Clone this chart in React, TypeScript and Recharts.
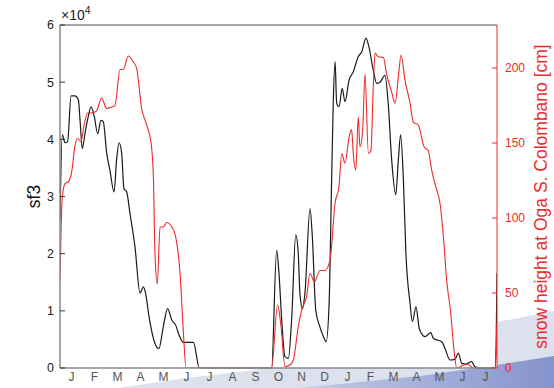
import { LineChart, Line, XAxis, YAxis, CartesianGrid } from 'recharts'

// month letters, Jan (year 1) .. Jul (year 2)
const monthLetters = ['J', 'F', 'M', 'A', 'M', 'J', 'J', 'A', 'S', 'O', 'N', 'D', 'J', 'F', 'M', 'A', 'M', 'J', 'J']
const monthCenters = monthLetters.map((_, i) => i + 0.5)
const monthEdges = monthLetters.slice(1).map((_, i) => i + 1)

const sf3Ticks = [0, 1, 2, 3, 4, 5, 6]
const snowTicks = [0, 50, 100, 150, 200]
const snowInnerTicks = [50, 100, 150, 200]

// sf3 (x 10^4), x in months since 1 Jan
const sf3Months = [
  0, 0.1, 0.22, 0.33, 0.48, 0.65, 0.8, 0.87, 0.97, 1.09, 1.23, 1.35, 1.49, 1.64, 1.78, 1.88, 2.03, 2.17, 2.35, 2.46,
  2.57, 2.68, 2.78, 2.9, 3.04, 3.26, 3.48, 3.62, 3.72, 3.87, 4.13, 4.3, 4.49, 4.68, 4.86, 5.03, 5.17, 5.36, 5.8, 6.06,
  9.2, 9.42, 9.52, 9.64, 9.78, 9.93, 10.07, 10.25, 10.36, 10.43, 10.54, 10.65, 10.87, 10.97, 11.12, 11.3, 11.45, 11.57,
  11.7, 11.81, 11.88, 11.96, 12.03, 12.13, 12.27, 12.39, 12.57, 12.75, 12.97, 13.12, 13.3, 13.43, 13.62, 13.77, 13.91,
  14.13, 14.27, 14.42, 14.6, 14.71, 14.81, 14.93, 15.04, 15.22, 15.32, 15.48, 15.62, 15.87, 16.12, 16.23, 16.4, 16.6,
  16.74, 16.96, 17.17, 17.32, 17.47, 17.65, 17.9, 18.04, 18.26, 18.93, 19,
]
const sf3Values = [
  2.6, 4.08, 3.94, 3.96, 4.76, 4.76, 4.69, 4.34, 3.84, 4.11, 4.4, 4.57, 4.4, 4.1, 4.33, 4.31, 3.76, 3.46, 3.08, 3.64,
  3.94, 3.76, 3.14, 3.08, 2.71, 2.12, 1.31, 1.42, 1.31, 0.9, 0.43, 0.34, 0.72, 1.04, 0.84, 0.75, 0.58, 0.45, 0.45, 0,
  0, 2.06, 1.66, 0.84, 0.2, 0.17, 0.84, 2.33, 2.0, 1.31, 1.04, 1.31, 2.79, 2.3, 1.01, 0.72, 0.55, 0.46,
  1.13, 3.29, 4.63, 5.36, 4.63, 4.57, 4.89, 4.66, 5.04, 5.18, 5.45, 5.53, 5.77, 5.62, 5.21, 4.98, 5.0,
  5.12, 4.63, 3.64, 3.03, 3.64, 4.08, 3.29, 2.0, 1.13, 0.81, 1.07, 0.69, 0.55, 0.62, 0.52, 0.49, 0.46,
  0.34, 0.14, 0.15, 0.26, 0.08, 0.07, 0.11, 0.02, 0, 0, 1.66,
]

// snow height at Oga S. Colombano [cm]
const snowMonths = [
  0, 0.1, 0.22, 0.36, 0.51, 0.65, 0.77, 0.91, 1.06, 1.2, 1.38, 1.59, 1.81, 2.03, 2.25, 2.39, 2.61, 2.75, 2.97, 3.19,
  3.33, 3.55, 3.77, 3.96, 4.06, 4.13, 4.23, 4.35, 4.49, 4.64, 4.86, 5.03, 5.22, 5.36, 5.48,
  9.2, 9.46, 9.61, 9.78, 10.0, 10.14, 10.36, 10.51, 10.72, 10.87, 11.06, 11.3, 11.52, 11.74, 11.96, 12.13, 12.25,
  12.39, 12.57, 12.68, 12.75, 12.86, 12.97, 13.04, 13.16, 13.26, 13.41, 13.52, 13.62, 13.7, 13.84, 14.06, 14.2, 14.42,
  14.57, 14.71, 14.83, 15.0, 15.22, 15.36, 15.58, 15.83, 16.01, 16.16, 16.38, 16.52, 16.67, 16.81, 16.99, 17.13, 17.25,
  17.55, 17.75, 17.95, 18.9, 18.97, 19,
]
const snowValues = [
  58, 114, 123, 124, 131, 148, 153, 151, 163, 170, 170, 171.5, 180, 173, 174, 175, 199, 199, 208, 204,
  200, 173, 162, 150, 127.5, 76, 56, 94, 94, 97, 94, 87.5, 63, 25, 0,
  0, 42, 27.5, 1, 2, 5, 27.5, 38.7, 47.5, 63, 57.5, 65, 65, 72, 110, 121, 143,
  136.5, 154, 159, 143, 132, 167.5, 147.5, 159, 196, 143, 145, 187.5, 210, 207.5, 207, 196, 184,
  176.5, 194, 208.7, 192, 176.5, 164, 162, 147.5, 145, 132, 118.7, 110, 87.5, 58.7, 36.5, 12, 0,
  2, 2.5, 0, 0, 10, 30,
]

const sf3Data = sf3Months.map((m, i) => ({ m, v: sf3Values[i] }))
const snowData = snowMonths.map((m, i) => ({ m, v: snowValues[i] }))

const FRAME = '#8a8a8a'
const RED = '#ee2a2a'
const FONT = '"Liberation Sans", Arial, Helvetica, sans-serif'

function sideTitle(text: string, dx: number, color: string) {
  return (props: any) => {
    const { x, y, height } = props.viewBox
    const cx = x + dx
    const cy = y + height / 2
    return (
      <text
        x={cx}
        y={cy}
        transform={`rotate(-90, ${cx}, ${cy})`}
        textAnchor="middle"
        dominantBaseline="central"
        fill={color}
        fontSize={17.5}
        fontFamily={FONT}
      >
        {text}
      </text>
    )
  }
}

function exponentLabel(props: any) {
  const { x, y } = props.viewBox
  return (
    <text x={x + 1} y={y - 5} fill="#222" style={{ fontSize: 14, fontFamily: FONT }}>
      ×10<tspan dy={-6} style={{ fontSize: 10.5 }}>4</tspan>
    </text>
  )
}

export default function App() {
  return (
    <div style={{ position: 'fixed', left: 0, top: 0, width: 554, height: 388, background: '#fff', fontFamily: FONT }}>
      <svg width={554} height={388} style={{ position: 'absolute', left: 0, top: 0 }}>
        <defs>
          <linearGradient id="swoosh" x1="0" y1="0" x2="1" y2="0">
            <stop offset="0" stopColor="#c3cbe8" />
            <stop offset="1" stopColor="#8493cb" />
          </linearGradient>
        </defs>
        <polygon points="118,388 187,378 280,367 400,343 497,322 554,311 554,388" fill="#dde1ee" />
        <polygon points="300,388 420,376 497,365 554,356 554,388" fill="url(#swoosh)" />
      </svg>
      <div style={{ position: 'absolute', left: 0, top: 0 }}>
        <LineChart width={554} height={388} margin={{ top: 25, right: 0, bottom: 0, left: 0 }}>
          <CartesianGrid xAxisId="main" yAxisId="sf3" horizontal={false} vertical={false} fill="#fff" />
          <XAxis
            xAxisId="main"
            dataKey="m"
            type="number"
            domain={[0, 19]}
            allowDataOverflow
            ticks={monthCenters}
            tickFormatter={(v: number) => monthLetters[Math.floor(v)]}
            tickLine={false}
            tickSize={0}
            tickMargin={4}
            height={20}
            axisLine={{ stroke: FRAME, strokeWidth: 1.5 }}
            tick={{ fill: '#555', fontSize: 12 }}
            interval={0}
          />
          <XAxis
            xAxisId="edges"
            dataKey="m"
            type="number"
            domain={[0, 19]}
            allowDataOverflow
            orientation="bottom"
            mirror
            height={1}
            ticks={monthEdges}
            tick={false}
            tickSize={5}
            axisLine={false}
            tickLine={{ stroke: FRAME }}
            interval={0}
          />
          <XAxis
            xAxisId="top"
            dataKey="m"
            type="number"
            domain={[0, 19]}
            allowDataOverflow
            orientation="top"
            mirror
            height={1}
            ticks={monthEdges}
            tick={false}
            tickSize={5}
            axisLine={{ stroke: FRAME, strokeWidth: 1.5 }}
            tickLine={{ stroke: FRAME }}
            interval={0}
            label={{ content: exponentLabel }}
          />
          <YAxis
            yAxisId="sf3"
            width={60}
            domain={[0, 6]}
            ticks={sf3Ticks}
            tickSize={-5}
            tickMargin={11}
            axisLine={{ stroke: FRAME, strokeWidth: 1.5 }}
            tickLine={{ stroke: '#333' }}
            tick={{ fill: '#222', fontSize: 12.5 }}
            interval={0}
            label={{ content: sideTitle('sf3', 34, '#111') }}
          />
          <YAxis
            yAxisId="snowLeft"
            orientation="left"
            mirror
            width={1}
            domain={[0, 228.7]}
            allowDataOverflow
            ticks={snowInnerTicks}
            tick={false}
            tickSize={5}
            axisLine={false}
            tickLine={{ stroke: RED }}
            interval={0}
          />
          <YAxis
            yAxisId="snow"
            orientation="right"
            width={57}
            domain={[0, 228.7]}
            allowDataOverflow
            ticks={snowTicks}
            tickSize={-5}
            tickMargin={13}
            axisLine={{ stroke: RED }}
            tickLine={{ stroke: RED }}
            tick={{ fill: RED, fontSize: 12 }}
            interval={0}
            label={{ content: sideTitle('snow height at Oga S. Colombano [cm]', 44, RED) }}
          />
          <Line
            xAxisId="main"
            yAxisId="sf3"
            data={sf3Data}
            dataKey="v"
            type="monotone"
            stroke="#1a1a1a"
            strokeWidth={1.2}
            dot={false}
            isAnimationActive={false}
          />
          <Line
            xAxisId="main"
            yAxisId="snow"
            data={snowData}
            dataKey="v"
            type="monotone"
            stroke={RED}
            strokeWidth={1.1}
            dot={false}
            isAnimationActive={false}
          />
        </LineChart>
      </div>
    </div>
  )
}
